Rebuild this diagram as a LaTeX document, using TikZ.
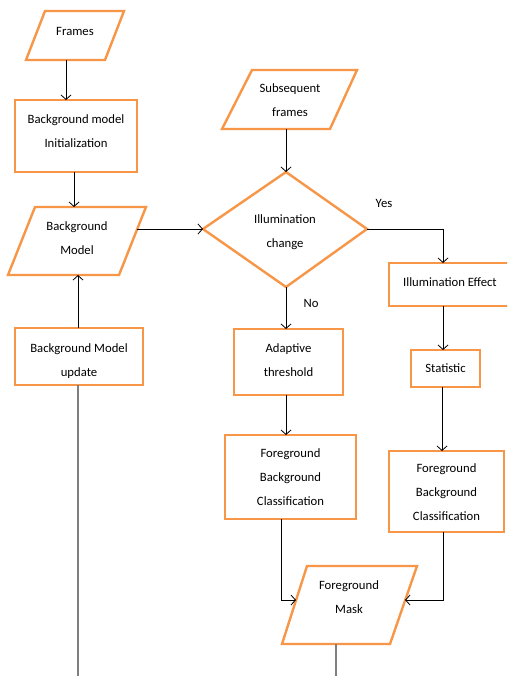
\documentclass[tikz,border=0pt]{standalone}
\usepackage{fontspec}
\setmainfont{Carlito}
\usetikzlibrary{arrows.meta}
\definecolor{orng}{HTML}{F79646}
\definecolor{gline}{HTML}{7F7F7F}
\tikzset{
  box/.style={draw=orng, line width=2.4pt, fill=white, inner sep=0pt, outer sep=0pt},
  shp/.style={draw=orng, line width=2.4pt, fill=white, line join=miter},
  txt/.style={align=center, font=\fontsize{12.7}{24}\selectfont, inner sep=0pt},
  arr/.style={draw=black, line width=0.8pt, -{Straight Barb[length=4.5pt,width=10pt]}},
  plain/.style={draw=gline, line width=1.2pt},
  lbl/.style={font=\fontsize{12.7}{15}\selectfont, inner sep=0pt}
}
\begin{document}
\begin{tikzpicture}[x=1pt,y=-1pt]
\clip (0,0) rectangle (507,676);
% parallelograms
\draw[shp] (45,11) -- (124,11) -- (105,60) -- (26,60) -- cycle;
\node[txt] (frames) at (75,31) {Frames};
\draw[shp] (35,207) -- (146,207) -- (119,275) -- (8,275) -- cycle;
\node[txt] (bm) at (77,238) {Background\\Model};
\draw[shp] (252,70) -- (357,70) -- (330,129) -- (222,129) -- cycle;
\node[txt] (subs) at (290,100) {Subsequent\\frames};
\draw[shp] (307,566) -- (417,566) -- (390,644) -- (282,644) -- cycle;
\node[txt] (mask) at (349,597) {Foreground\\Mask};
% diamond
\draw[shp] (286,172) -- (367,229) -- (286,287) -- (203,229) -- cycle;
\node[txt] (ill) at (285,232) {Illumination\\change};
% boxes
\node[box, minimum width=122pt, minimum height=72pt] (bmi) at (76,136) {};
\node[txt] at (76,131) {Background model\\Initialization};
\node[box, minimum width=128pt, minimum height=57pt] (bmu) at (79,356.5) {};
\node[txt] at (79,361.5) {Background Model\\update};
\node[box, minimum width=109pt, minimum height=66pt] (adapt) at (288.5,362) {};
\node[txt] at (288.5,360) {Adaptive\\threshold};
\node[box, minimum width=131pt, minimum height=84pt] (fbcl) at (290.5,477) {};
\node[txt] at (fbcl.center) {Foreground\\Background\\Classification};
\node[box, minimum width=125pt, minimum height=43pt] (ieff) at (451.5,284.5) {};
\node[txt] at (450,282.5) {Illumination Effect};
\node[box, minimum width=69pt, minimum height=37pt] (stat) at (445.5,368.5) {};
\node[txt] at (stat.center) {Statistic};
\node[box, minimum width=115pt, minimum height=81pt] (fbcr) at (446.5,491.5) {};
\node[txt] at (446.5,492.5) {Foreground\\Background\\Classification};
% connection coordinates
\coordinate (frS) at (66,60);
\coordinate (bmN) at (74,207);
\coordinate (bmS) at (78,275);
\coordinate (bmE) at (137,229);
\coordinate (dW) at (203,229);
\coordinate (dN) at (286,172);
\coordinate (dE) at (367,229);
\coordinate (dS) at (286,287);
\coordinate (sbS) at (286,129);
\coordinate (mW) at (296,600);
\coordinate (mE) at (405,600);
\coordinate (mS) at (336,644);
\coordinate (endL) at (78,676);
\coordinate (endM) at (336,676);
% connectors
\draw[arr] (frS) -- (frS |- bmi.north);
\draw[arr] (bmN |- bmi.south) -- (bmN);
\draw[arr] (bmS |- bmu.north) -- (bmS);
\draw[arr] (bmE) -- (dW);
\draw[arr] (sbS) -- (dN);
\draw[arr] (dE) -| (443,0 |- ieff.north);
\draw[arr] (dS) -- (dS |- adapt.north);
\draw[arr] (286,0 |- adapt.south) -- (286,0 |- fbcl.north);
\draw[arr] (443,0 |- ieff.south) -- (443,0 |- stat.north);
\draw[arr] (442,0 |- stat.south) -- (442,0 |- fbcr.north);
\draw[arr] (281,0 |- fbcl.south) |- (mW);
\draw[arr] (443,0 |- fbcr.south) |- (mE);
\draw[plain] (mS) -- (endM);
\draw[plain] (bmS |- bmu.south) -- (endL);
% labels
\node[lbl] (yes) at (384,203) {Yes};
\node[lbl] (no) at (311,303) {No};
\end{tikzpicture}
\end{document}
